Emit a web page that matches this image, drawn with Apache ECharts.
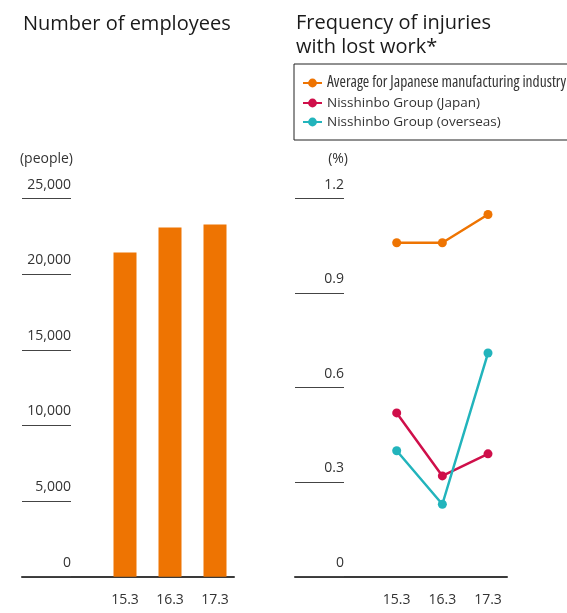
<!DOCTYPE html>
<html>
<head>
<meta charset="utf-8">
<script src="https://cdn.jsdelivr.net/npm/echarts@6/dist/echarts.min.js"></script>
<style>
html,body{margin:0;padding:0;background:#fff;}
#c{width:567px;height:613px;}
</style>
</head>
<body>
<div id="c"></div>
<script>
const years = ['15.3', '16.3', '17.3'];
const employees = [21440, 23090, 23290];
const empTicks = { min: 0, max: 25000, interval: 5000 };
const rateTicks = { min: 0, max: 1.2, interval: 0.3 };
const seriesNames = ['Average for Japanese manufacturing industry', 'Nisshinbo Group (Japan)', 'Nisshinbo Group (overseas)'];
const avgJapan = [1.06, 1.06, 1.15];
const nisshinboJapan = [0.52, 0.32, 0.39];
const nisshinboOverseas = [0.40, 0.23, 0.71];

const FONT = "'Open Sans', 'Noto Sans', sans-serif";
const ORANGE = '#EE7402';
const RED = '#CF0F4A';
const TEAL = '#22B4BC';
const TOP = 198.7, H = 378;

const chart = echarts.init(document.getElementById('c'));
const yCommon = {
  type: 'value', position: 'left',
  axisLine: { show: false },
  axisTick: { show: true, length: 49, lineStyle: { color: '#444', width: 1 } },
  splitLine: { show: false },
  axisLabel: { align: 'right', verticalAlign: 'bottom', margin: 0, padding: [0, 0, 7, 0],
    color: '#333', fontSize: 14, fontFamily: FONT }
};
const xLineOnly = {
  type: 'value', min: 0, max: 1,
  axisLine: { show: true, lineStyle: { color: '#3a3a3a', width: 2 } },
  axisTick: { show: false }, axisLabel: { show: false }, splitLine: { show: false }
};
const catLabel = { color: '#333', fontSize: 14, fontFamily: FONT, margin: 16 };
const lineSeries = (name, data, color) => ({
  name, type: 'line', xAxisIndex: 2, yAxisIndex: 2, data,
  symbol: 'circle', symbolSize: 9,
  lineStyle: { color, width: 2.5 }, itemStyle: { color }
});

chart.setOption({
  animation: false,
  title: [
    { text: 'Number of employees', left: 23, top: 14, padding: 0,
      textStyle: { fontSize: 20, fontWeight: 'normal', color: '#1a1a1a', fontFamily: FONT } },
    { text: 'Frequency of injuries\nwith lost work*', left: 296, top: 11, padding: 0,
      textStyle: { fontSize: 20, fontWeight: 'normal', color: '#1a1a1a', fontFamily: FONT, lineHeight: 24 } },
    { text: '(people)', right: 494, top: 152, padding: 0,
      textStyle: { fontSize: 14, fontWeight: 'normal', color: '#333', fontFamily: FONT } },
    { text: '(%)', right: 219, top: 152, padding: 0,
      textStyle: { fontSize: 14, fontWeight: 'normal', color: '#333', fontFamily: FONT } }
  ],
  legend: {
    orient: 'vertical', left: 294, top: 64,
    data: seriesNames,
    borderColor: '#222', borderWidth: 1,
    padding: [11, 40, 11, 8],
    itemGap: 5, itemWidth: 19, itemHeight: 11,
    formatter: n => n === seriesNames[0] ? '{c|' + n + '}' : n,
    textStyle: { fontSize: 13.5, color: '#333', fontFamily: FONT, lineHeight: 14,
      rich: { c: { fontFamily: "'Open Sans'", fontWeight: 'condensed', fontSize: 15.5, lineHeight: 14, color: '#333' } } }
  },
  grid: [
    { left: 102.5, top: TOP, width: 135, height: H },
    { left: 22, top: TOP, width: 212, height: H },
    { left: 396.7, top: TOP, width: 91.3, height: H },
    { left: 295, top: TOP, width: 212, height: H }
  ],
  xAxis: [
    { type: 'category', gridIndex: 0, data: years, axisLine: { show: false }, axisTick: { show: false }, axisLabel: catLabel },
    Object.assign({ gridIndex: 1 }, xLineOnly),
    { type: 'category', gridIndex: 2, data: years, boundaryGap: false, axisLine: { show: false }, axisTick: { show: false }, axisLabel: catLabel },
    Object.assign({ gridIndex: 3 }, xLineOnly)
  ],
  yAxis: [
    Object.assign({}, yCommon, { gridIndex: 0, offset: 31.5, min: empTicks.min, max: empTicks.max, interval: empTicks.interval,
      axisLabel: Object.assign({}, yCommon.axisLabel, { formatter: v => v.toLocaleString('en-US') }) }),
    { type: 'value', gridIndex: 1, show: false },
    Object.assign({}, yCommon, { gridIndex: 2, offset: 52.7, min: rateTicks.min, max: rateTicks.max, interval: rateTicks.interval,
      axisLabel: Object.assign({}, yCommon.axisLabel, { formatter: v => v === 0 ? '0' : v.toFixed(1) }) }),
    { type: 'value', gridIndex: 3, show: false }
  ],
  series: [
    { type: 'bar', xAxisIndex: 0, yAxisIndex: 0, data: employees, barWidth: 23, itemStyle: { color: ORANGE } },
    lineSeries(seriesNames[0], avgJapan, ORANGE),
    lineSeries(seriesNames[1], nisshinboJapan, RED),
    lineSeries(seriesNames[2], nisshinboOverseas, TEAL)
  ]
});
</script>
</body>
</html>
